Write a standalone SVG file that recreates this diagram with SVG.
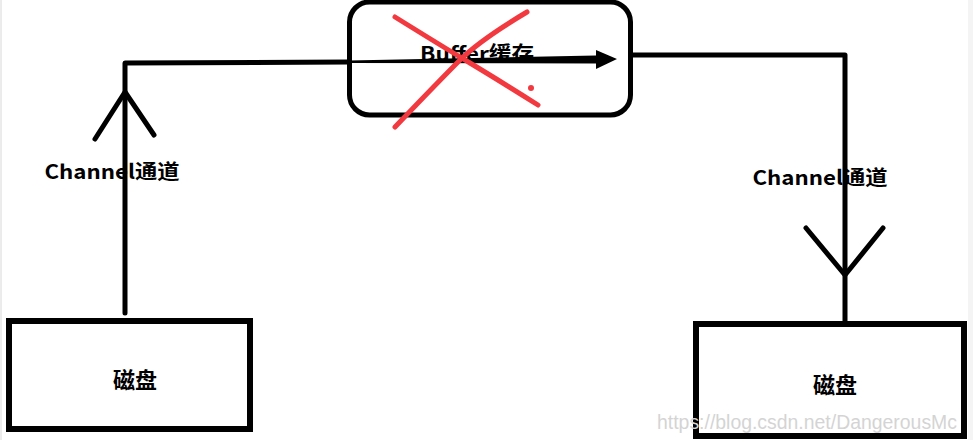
<svg xmlns="http://www.w3.org/2000/svg" width="973" height="440" viewBox="0 0 973 440">
<style>
.box{fill:#fff;stroke:#000;stroke-width:6}
.ln{fill:none;stroke:#000;stroke-width:5;stroke-linecap:round;stroke-linejoin:round}
.lbl{font-family:"Noto Sans CJK SC","Liberation Sans",sans-serif;font-weight:bold;font-size:20px;fill:#000}
.disk{font-size:22px}
.red{fill:none;stroke:#f2393f;stroke-width:5;stroke-linecap:round;stroke-linejoin:round}
</style>
<rect x="0" y="0" width="973" height="440" fill="#fff"/>
<line x1="1" y1="0" x2="1" y2="440" stroke="#d8d8d8" stroke-width="1"/>
<rect x="968" y="0" width="5" height="440" fill="#f4f4f4"/>
<g id="buffer">
<rect x="349.5" y="2" width="281" height="113" rx="20" fill="#fff" stroke="#000" stroke-width="5"/>
<text class="lbl" x="477" y="61" text-anchor="middle" textLength="114" lengthAdjust="spacingAndGlyphs">Buffer缓存</text>
</g>
<g id="disk-left">
<rect class="box" x="9" y="321" width="241" height="108"/>
<text class="lbl disk" x="135" y="388" text-anchor="middle">磁盘</text>
</g>
<g id="disk-right">
<rect class="box" x="696" y="324" width="268" height="112"/>
<text class="lbl disk" x="835" y="393" text-anchor="middle">磁盘</text>
</g>
<g id="connectors">
<polyline class="ln" points="125,313 125,63 349,62"/>
<polyline class="ln" points="95,139 125,92 154,135"/>
<polygon points="349,60.5 596,55.5 596,50 617,59 596,69 596,63.5 349,63" fill="#000"/>
<polyline class="ln" points="632,55 845,55 845,321"/>
<polyline class="ln" points="806,228 845,275 883,228"/>
<text class="lbl" x="112" y="179" text-anchor="middle" textLength="135" lengthAdjust="spacingAndGlyphs">Channel通道</text>
<text class="lbl" x="820" y="185" text-anchor="middle" textLength="135" lengthAdjust="spacingAndGlyphs">Channel通道</text>
</g>
<g id="cross">
<path class="red" d="M395,17 Q440,45 470,63 T538,105"/>
<path class="red" d="M527,12 Q480,40 460,60 T395,127"/>
<circle cx="531" cy="88" r="3" fill="#f2393f"/>
</g>
<text x="657" y="429" font-family="Liberation Sans, Arial, sans-serif" font-size="20" fill="#d4d4d4" textLength="300" lengthAdjust="spacingAndGlyphs">https://blog.csdn.net/DangerousMc</text>
</svg>
